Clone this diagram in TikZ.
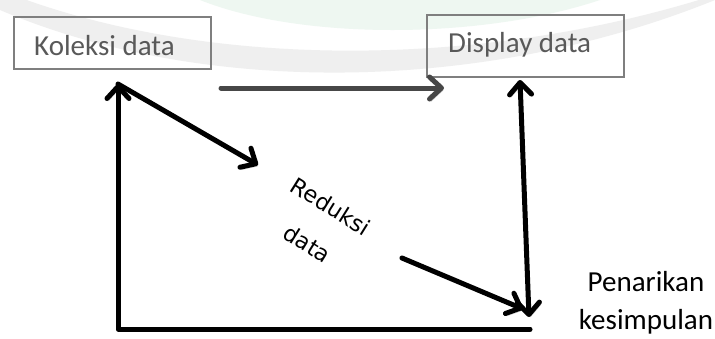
\documentclass[tikz,border=0pt]{standalone}
\usepackage{fontspec}
\setmainfont{Carlito}
\newfontfamily\dejavu{DejaVu Sans}
\usetikzlibrary{arrows.meta}
\definecolor{boxtext}{HTML}{595959}
\definecolor{boxline}{HTML}{7F7F7F}
\definecolor{wmgray}{HTML}{EFEFEF}
\definecolor{wmgreen}{HTML}{EEF7F1}
\tikzset{
  boxnode/.style={draw=boxline, line width=1.1pt, minimum width=197pt, minimum height=52pt, inner sep=0pt},
  boxlabel/.style={anchor=base west, inner sep=0pt, text=boxtext, font=\fontsize{29pt}{38pt}\selectfont},
  conn/.style={line width=5pt, line cap=round, line join=round,
    -{Straight Barb[length=12pt,width=22pt,round]},
    preaction={draw=black!22, transform canvas={shift={(1.5pt,-2.5pt)}}}},
  dconn/.style={conn, {Straight Barb[length=12pt,width=22pt,round]}-{Straight Barb[length=12pt,width=22pt,round]}},
  plain/.style={line width=5pt, line cap=round, line join=round,
    preaction={draw=black!22, transform canvas={shift={(1.5pt,-2.5pt)}}}}
}
\begin{document}
\begin{tikzpicture}[x=1pt,y=-1pt]
\useasboundingbox (0,0) rectangle (715,338);
\fill[white] (0,0) rectangle (715,338);
% faint watermark
\fill[wmgreen] (200,0) .. controls (300,40) and (480,40) .. (600,0) -- cycle;
\fill[wmgray] (0,10) .. controls (200,95) and (480,95) .. (715,0) -- (715,-5)
  .. controls (480,70) and (200,70) .. (0,-10) -- cycle;
% boxes
\node[boxnode] (kol) at (112.5,43) {};
\node[boxlabel] (kolt) at (34,55) {Koleksi data};
\node[boxnode, minimum height=62pt] (dis) at (525.5,46) {};
\node[boxlabel] (dist) at (448,52) {Display data};
% other labels
\node[align=center, inner sep=0pt, font=\fontsize{29pt}{38pt}\selectfont] (pen) at (646,303) {Penarikan\\kesimpulan};
\node[align=center, inner sep=0pt, rotate=-32, font=\dejavu\fontsize{22.5pt}{44pt}\selectfont] (red) at (319,225) {Reduksi\\data};
% coordinates
\coordinate (A) at (118,84);
\coordinate (B) at (118,329);
\coordinate (C) at (530,329);
\coordinate (R1) at (258,165);
\coordinate (R2s) at (402,258);
\coordinate (R2e) at (523,309);
\coordinate (D1) at (520,80);
\coordinate (D2) at (529,317);
\coordinate (H1) at (221,88);
\coordinate (H2) at (444,88);
% connectors
\draw[conn, draw=black!72] (H1) -- (H2);
\draw[conn] (C) -- (B) -- (A);
\draw[conn] (A) -- (R1);
\draw[conn] (R2s) -- (R2e);
\draw[dconn] (D2) -- (D1);
\end{tikzpicture}
\end{document}
